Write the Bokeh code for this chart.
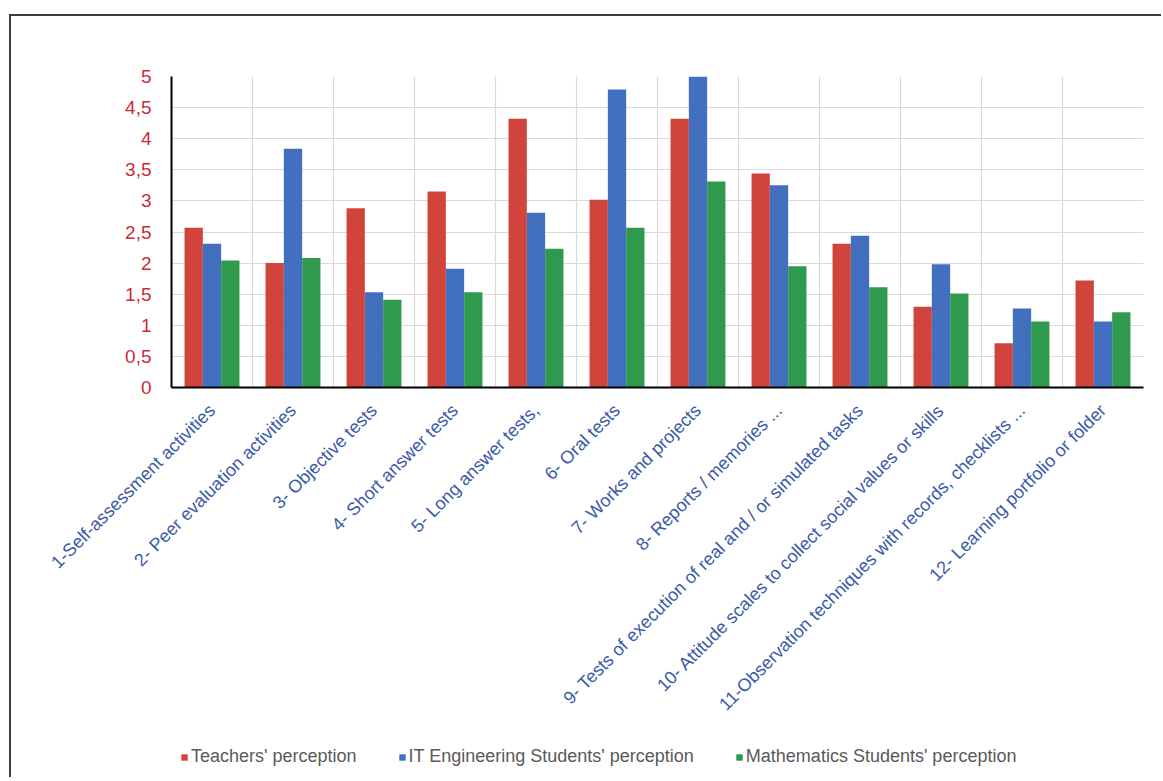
import math
from bokeh.plotting import figure
from bokeh.layouts import column
from bokeh.models import FixedTicker, Range1d, Legend, LegendItem, Grid
from bokeh.embed import file_html
from bokeh.resources import INLINE

categories = [
    "1-Self-assessment activities",
    "2- Peer evaluation activities",
    "3- Objective tests",
    "4- Short answer tests",
    "5- Long answer tests,",
    "6- Oral tests",
    "7- Works and projects",
    "8- Reports / memories ...",
    "9- Tests of execution of real and / or simulated tasks",
    "10- Attitude scales to collect social values or skills",
    "11-Observation techniques with records, checklists ...",
    "12- Learning portfolio or folder",
]
teachers = [2.57, 2.00, 2.88, 3.15, 4.32, 3.02, 4.32, 3.44, 2.31, 1.30, 0.71, 1.72]
it_students = [2.31, 3.84, 1.53, 1.91, 2.81, 4.79, 5.00, 3.25, 2.44, 1.98, 1.27, 1.06]
math_students = [2.04, 2.08, 1.41, 1.53, 2.23, 2.57, 3.31, 1.95, 1.61, 1.51, 1.06, 1.21]
series_names = ["Teachers' perception", "IT Engineering Students' perception",
                "Mathematics Students' perception"]
y_ticks = [0, 0.5, 1, 1.5, 2, 2.5, 3, 3.5, 4, 4.5, 5]
y_tick_labels = ["0", "0,5", "1", "1,5", "2", "2,5", "3", "3,5", "4", "4,5", "5"]

colors = ["#d1443b", "#4270bf", "#2f9a4e"]
FONT = "Liberation Sans"

n = len(categories)
centers = [i + 0.5 for i in range(n)]
bw = 0.226
series = [teachers, it_students, math_students]

p = figure(width=1150, height=731, x_range=Range1d(0, n), y_range=Range1d(0, 5),
           output_backend="svg", toolbar_location=None,
           min_border_left=160, min_border_top=60, min_border_right=18,
           min_border_bottom=360)
p.outline_line_color = None
p.background_fill_color = "white"
p.border_fill_color = "white"

for k, (vals, col) in enumerate(zip(series, colors)):
    xs = [c + (k - 1) * bw for c in centers]
    p.vbar(x=xs, top=vals, width=bw, bottom=0, fill_color=col, line_color=None)

# grids
p.xgrid.visible = False
p.ygrid.ticker = FixedTicker(ticks=y_ticks)
p.ygrid.grid_line_color = "#dadada"
p.ygrid.grid_line_width = 1.2
vgrid = Grid(dimension=0, ticker=FixedTicker(ticks=list(range(n + 1))),
             grid_line_color="#dadada", grid_line_width=1.2)
p.add_layout(vgrid)

# axes
xa = p.xaxis[0]
xa.ticker = FixedTicker(ticks=centers)
xa.major_label_overrides = {c: lab for c, lab in zip(centers, categories)}
xa.major_label_orientation = math.pi / 4
xa.major_label_text_color = "#3a5aa8"
xa.major_label_text_font = FONT
xa.major_label_text_font_size = "18px"
xa.major_tick_line_color = None
xa.minor_tick_line_color = None
xa.axis_line_color = "black"
xa.axis_line_width = 2
xa.major_label_standoff = 14

ya = p.yaxis[0]
ya.ticker = FixedTicker(ticks=y_ticks)
ya.major_label_overrides = {t: lab for t, lab in zip(y_ticks, y_tick_labels)}
ya.major_label_text_color = "#cc2a3a"
ya.major_label_text_font = FONT
ya.major_label_text_font_size = "19px"
ya.major_tick_line_color = None
ya.minor_tick_line_color = None
ya.axis_line_color = "black"
ya.axis_line_width = 2
ya.major_label_standoff = 14

# legend strip below the chart (frame is aligned with the chart's frame)
q = figure(width=1150, height=30, x_range=Range1d(0, 1), y_range=Range1d(0, 1),
           output_backend="svg", toolbar_location=None,
           x_axis_type=None, y_axis_type=None, min_border=0)
q.outline_line_color = None
q.grid.visible = False
q.border_fill_color = "white"
leg_renderers = []
for k, (vals, col) in enumerate(zip(series, colors)):
    xs = [c + (k - 1) * bw for c in centers]
    r = q.vbar(x=xs, top=vals, width=bw, bottom=0, fill_color=col, line_color=None,
               visible=False)
    leg_renderers.append(r)

legend = Legend(items=[LegendItem(label=nm, renderers=[r]) for nm, r in zip(series_names, leg_renderers)],
                orientation="horizontal", location=(9, 10),
                glyph_width=8, glyph_height=8, label_standoff=3, spacing=41,
                padding=0, margin=0, border_line_color=None, background_fill_alpha=0,
                label_text_font=FONT, label_text_font_size="18px",
                label_text_color="#595959")
q.add_layout(legend)

layout = column(p, q, spacing=0)
layout.margin = (14, 0, 0, 9)
layout.styles = {"border-top": "2px solid #3c3c3c", "border-left": "2px solid #3c3c3c"}

open("out.html", "w").write(file_html(layout, INLINE))
